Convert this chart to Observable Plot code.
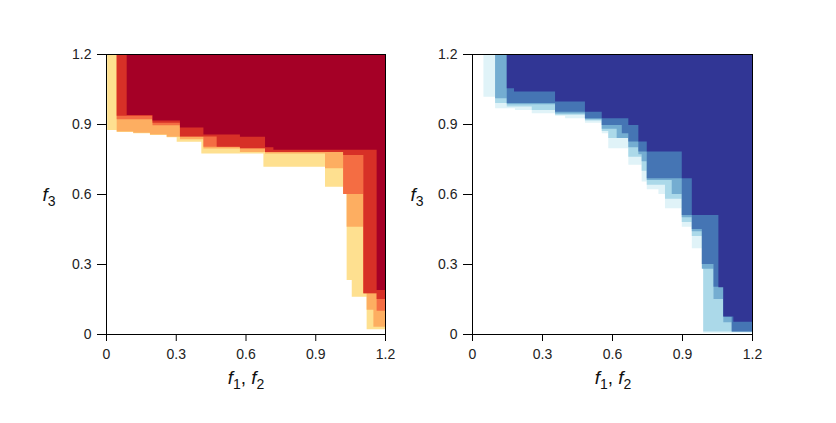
<!DOCTYPE html>
<html><head><meta charset="utf-8">
<script src="https://cdn.jsdelivr.net/npm/d3@7"></script>
<script src="https://cdn.jsdelivr.net/npm/@observablehq/plot@0.6"></script>
<style>
body{margin:0;background:#fff;font-family:"Liberation Sans",Arial,sans-serif;}
#wrap{position:relative;width:836px;height:423px;overflow:hidden;background:#fff}
.panel{position:absolute;top:0}
.panel svg text{font-size:14px !important;font-family:"Liberation Sans",Arial,sans-serif !important}
.lab{position:absolute;font-style:normal;font-size:19px;color:#111;white-space:nowrap;transform:translate(-50%,-50%);line-height:1}
.lab i{font-style:italic}
.lab sub{font-size:14px;vertical-align:-5px;line-height:0}
</style></head><body>
<div id="wrap">
  <div id="left" class="panel" style="left:0px"></div>
  <div id="right" class="panel" style="left:400px"></div>
  <div class="lab" style="left:246px;top:377px"><i>f</i><sub>1</sub>, <i>f</i><sub>2</sub></div>
  <div class="lab" style="left:613px;top:377px"><i>f</i><sub>1</sub>, <i>f</i><sub>2</sub></div>
  <div class="lab" style="left:49px;top:194px"><i>f</i><sub>3</sub></div>
  <div class="lab" style="left:417px;top:194px"><i>f</i><sub>3</sub></div>
</div>
<script>
// tick values
const xTicks = [0, 0.3, 0.6, 0.9, 1.2];
const yTicks = [0, 0.3, 0.6, 0.9, 1.2];

// Left panel: attainment levels (lightest to darkest), step breakpoints
const leftColors = ["#fee090", "#fdae61", "#f46d43", "#d73027", "#a50026"];
const leftL1X = [0.005, 0.046, 0.117, 0.189, 0.261, 0.304, 0.41, 0.677, 0.942, 1.02, 1.035, 1.057, 1.121];
const leftL1Y = [0.874, 0.866, 0.860, 0.853, 0.843, 0.824, 0.774, 0.717, 0.631, 0.60, 0.231, 0.16, 0.02];
const leftL2X = [0.046, 0.117, 0.189, 0.261, 0.318, 0.419, 0.576, 0.684, 0.942, 1.02, 1.035, 1.107, 1.121, 1.15];
const leftL2Y = [0.868, 0.862, 0.855, 0.845, 0.835, 0.795, 0.78, 0.774, 0.710, 0.60, 0.46, 0.175, 0.104, 0.031];
const leftL3X = [0.046, 0.2, 0.318, 0.419, 0.576, 0.684, 1.02, 1.107, 1.164];
const leftL3Y = [0.92, 0.895, 0.846, 0.803, 0.796, 0.78, 0.60, 0.175, 0.10];
const leftL4X = [0.046, 0.2, 0.318, 0.476, 0.576, 0.684, 1.02, 1.107, 1.164];
const leftL4Y = [0.935, 0.905, 0.846, 0.803, 0.796, 0.78, 0.767, 0.175, 0.15];
const leftL5X = [0.089, 0.2, 0.318, 0.419, 0.576, 0.684, 0.72, 1.164];
const leftL5Y = [0.939, 0.915, 0.885, 0.855, 0.845, 0.80, 0.79, 0.189];

// Right panel
const rightColors = ["#e0f3f8", "#abd9e9", "#74add1", "#4575b4", "#313695"];
const rightL1X = [0.049, 0.099, 0.184, 0.256, 0.356, 0.399, 0.484, 0.556, 0.584, 0.67, 0.727, 0.749, 0.799, 0.827, 0.899, 0.942, 0.991];
const rightL1Y = [1.017, 0.967, 0.96, 0.946, 0.935, 0.925, 0.905, 0.86, 0.796, 0.725, 0.654, 0.62, 0.60, 0.539, 0.46, 0.367, 0.005];
const rightL2X = [0.099, 0.149, 0.256, 0.356, 0.484, 0.556, 0.584, 0.67, 0.727, 0.749, 0.827, 0.899, 0.942, 0.991];
const rightL2Y = [0.99, 0.975, 0.96, 0.94, 0.915, 0.87, 0.84, 0.76, 0.70, 0.64, 0.58, 0.48, 0.42, 0.011];
const rightL3X = [0.099, 0.149, 0.356, 0.484, 0.556, 0.62, 0.67, 0.713, 0.727, 0.749, 0.856, 0.899, 0.942, 0.985, 1.035, 1.077, 1.113];
const rightL3Y = [1.01, 0.985, 0.945, 0.92, 0.88, 0.84, 0.80, 0.77, 0.74, 0.66, 0.60, 0.50, 0.44, 0.28, 0.15, 0.05, 0.011];
const rightL4X = [0.149, 0.356, 0.484, 0.556, 0.642, 0.67, 0.713, 0.749, 0.899, 0.942, 0.985, 1.035, 1.077, 1.113];
const rightL4Y = [0.99, 0.953, 0.925, 0.896, 0.86, 0.825, 0.782, 0.668, 0.51, 0.45, 0.30, 0.203, 0.075, 0.011];
const rightL5X = [0.149, 0.18, 0.356, 0.484, 0.556, 0.67, 0.713, 0.749, 0.899, 0.942, 1.056, 1.077, 1.12];
const rightL5Y = [1.053, 1.039, 0.996, 0.953, 0.925, 0.896, 0.825, 0.782, 0.668, 0.51, 0.20, 0.075, 0.053];

const MAX = 1.2;

function panel(xsList, ysList, colors, opts) {
  const marks = [];
  xsList.forEach((xs, i) => {
    const pts = xs.map((x, j) => ({x, y: ysList[i][j]}));
    pts.push({x: MAX, y: pts[pts.length - 1].y});
    marks.push(Plot.areaY(pts, {x: "x", y1: "y", y2: () => MAX, curve: "step-after", fill: colors[i]}));
  });
  marks.push(Plot.frame({stroke: "#000", strokeWidth: 1}));
  marks.push(Plot.axisX({ticks: xTicks, tickSize: 7, tickPadding: 8, tickFormat: d => String(d), label: null, stroke: "#000", fill: "#222"}));
  marks.push(Plot.axisY({ticks: yTicks, tickSize: 9, tickPadding: 6, tickFormat: d => String(d), label: null, stroke: "#000", fill: "#222"}));
  return Plot.plot({
    width: opts.width,
    height: 423,
    marginLeft: opts.ml,
    marginRight: opts.mr,
    marginTop: 54,
    marginBottom: 89,
    x: {domain: [0, MAX]},
    y: {domain: [0, MAX]},
    clip: true,
    style: {fontFamily: "'Liberation Sans', Arial, sans-serif", fontSize: "14px", background: "transparent", color: "#000", overflow: "visible"},
    marks
  });
}

document.getElementById("left").appendChild(panel(
  [leftL1X, leftL2X, leftL3X, leftL4X, leftL5X],
  [leftL1Y, leftL2Y, leftL3Y, leftL4Y, leftL5Y],
  leftColors, {width: 418, ml: 106, mr: 33}));
document.getElementById("right").appendChild(panel(
  [rightL1X, rightL2X, rightL3X, rightL4X, rightL5X],
  [rightL1Y, rightL2Y, rightL3Y, rightL4Y, rightL5Y],
  rightColors, {width: 436, ml: 72, mr: 84}));
</script>
</body></html>
